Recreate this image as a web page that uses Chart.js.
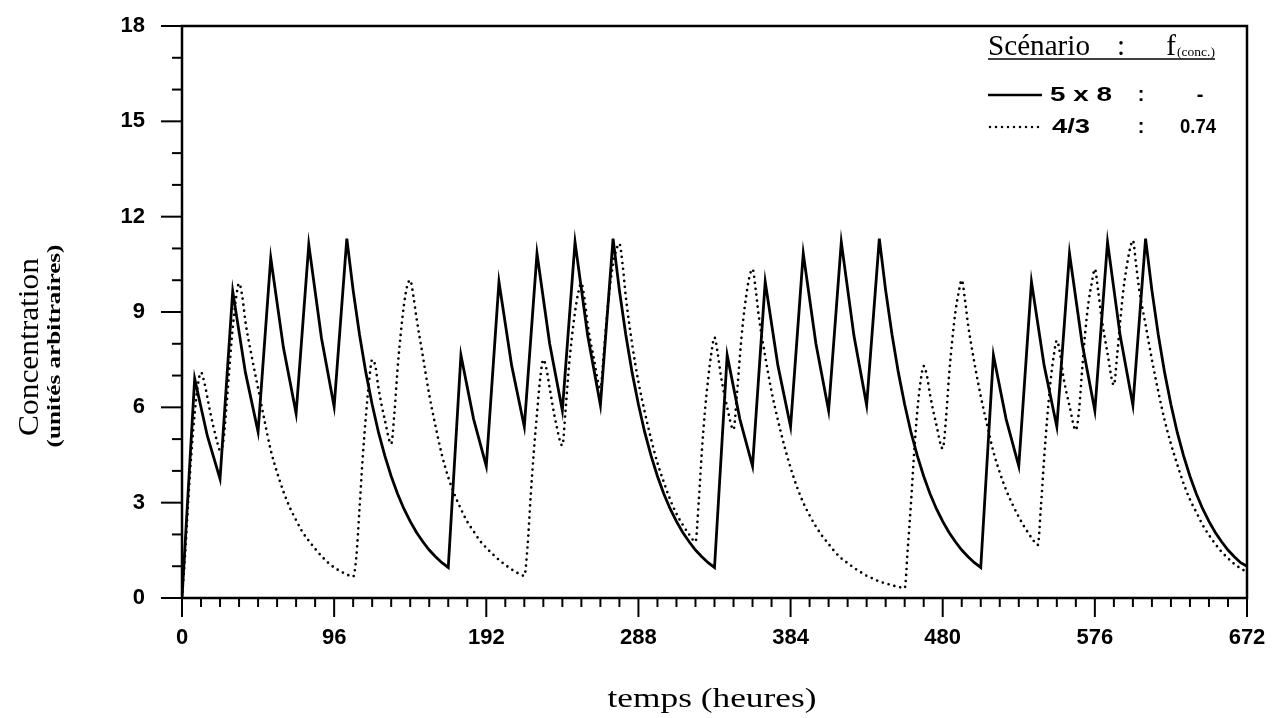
<!DOCTYPE html>
<html><head><meta charset="utf-8">
<script src="https://cdn.jsdelivr.net/npm/chart.js@4/dist/chart.umd.min.js"></script>
<style>html,body{margin:0;padding:0;background:#fff}#wrap{position:relative;width:1273px;height:718px}</style>
</head><body><div id="wrap"><canvas id="c" width="1273" height="718"></canvas></div>
<script>
// ---- data ----
const xMajorTicks = [0, 96, 192, 288, 384, 480, 576, 672];
const yMajorTicks = [0, 3, 6, 9, 12, 15, 18];

const solidLabel = '5 x 8';
const solidTimes = [0,8,16,24,32,40,48,56,64,72,80,88,96,104,108,112,116,120,124,128,132,136,140,144,148,152,156,160,164,168,
176,184,192,200,208,216,224,232,240,248,256,264,272,276,280,284,288,292,296,300,304,308,312,316,320,324,328,332,336,
344,352,360,368,376,384,392,400,408,416,424,432,440,444,448,452,456,460,464,468,472,476,480,484,488,492,496,500,504,
512,520,528,536,544,552,560,568,576,584,592,600,608,612,616,620,624,628,632,636,640,644,648,652,656,660,664,668,672];
const solidValues = [0,6.9,5.1,3.75,9.65,7.1,5.23,10.7,7.88,5.81,11.12,8.18,6.02,11.31,9.68,8.29,7.10,6.09,5.21,4.47,3.83,3.28,2.81,2.41,2.06,1.77,1.51,1.30,1.11,0.96,
7.64,5.63,4.15,9.95,7.32,5.39,10.84,8.0,5.9,11.2,8.25,6.07,11.31,9.68,8.29,7.10,6.09,5.21,4.47,3.83,3.28,2.81,2.41,2.06,1.77,1.51,1.30,1.11,0.96,
7.64,5.63,4.15,9.95,7.32,5.39,10.84,8.0,5.9,11.2,8.25,6.07,11.31,9.68,8.29,7.10,6.09,5.21,4.47,3.83,3.28,2.81,2.41,2.06,1.77,1.51,1.30,1.11,0.96,
7.64,5.63,4.15,9.95,7.32,5.39,10.84,8.0,5.9,11.2,8.25,6.07,11.31,9.68,8.29,7.10,6.09,5.21,4.47,3.83,3.28,2.81,2.41,2.06,1.77,1.51,1.30,1.11,1.0];

const dottedLabel = '4/3';
const dottedTimes = [0,2,4,6,8,10,12,14,18,22,24,26,28,30,32,34,36,38,40,44,48,52,56,60,64,68,72,76,80,84,88,92,96,100,104,108,
110,112,114,116,118,120,122,124,128,132,134,136,138,140,142,144,146,148,152,156,160,164,168,172,176,180,184,188,192,196,200,204,208,212,216,
218,220,222,224,226,228,230,232,236,240,242,244,246,248,250,252,254,256,260,264,266,268,270,272,274,276,278,280,284,288,292,296,300,304,308,312,316,320,324,
326,328,330,332,334,336,338,340,344,348,350,352,354,356,358,360,362,364,368,372,376,380,384,388,392,396,400,404,408,412,416,420,424,428,432,436,440,444,448,452,456,
458,460,462,464,466,468,470,472,476,480,482,484,486,488,490,492,494,496,500,504,508,512,516,520,524,528,532,536,540,
542,544,546,548,550,552,554,556,560,564,566,568,570,572,574,576,578,580,584,588,590,592,594,596,598,600,602,604,608,612,616,620,624,628,632,636,640,644,648,652,656,660,664,668,672];
const dottedValues = [0,1.4,3.1,4.6,5.8,6.7,7.1,6.8,5.8,4.95,4.65,4.9,6.0,7.3,8.5,9.4,9.9,9.5,8.7,7.6,6.6,5.6,4.65,3.95,3.35,2.85,2.45,2.08,1.8,1.55,1.32,1.12,0.96,0.84,0.74,0.67,
1.3,2.8,4.4,5.7,6.8,7.5,7.3,6.6,5.6,4.85,5.8,7.2,8.3,9.2,9.8,10.0,9.5,8.8,7.6,6.4,5.4,4.5,3.8,3.25,2.8,2.4,2.1,1.8,1.58,1.38,1.2,1.04,0.9,0.78,0.7,
1.6,3.2,4.6,5.8,6.9,7.5,7.2,6.6,5.5,4.8,5.9,7.2,8.2,9.0,9.6,9.9,9.4,8.6,7.5,6.6,7.6,8.8,9.8,10.5,10.95,11.15,10.5,9.5,8.0,6.8,5.85,5.0,4.25,3.65,3.1,2.65,2.3,2.0,1.77,
3.0,4.6,5.9,6.9,7.7,8.2,7.7,7.0,6.0,5.3,6.3,7.6,8.7,9.5,10.1,10.35,9.7,8.85,7.6,6.5,5.6,4.8,4.1,3.5,3.0,2.6,2.25,1.95,1.7,1.45,1.25,1.1,0.95,0.82,0.7,0.61,0.52,0.46,0.4,0.35,0.31,
1.6,3.0,4.6,5.9,6.8,7.3,7.0,6.4,5.45,4.7,5.6,7.0,8.1,9.0,9.6,10.0,9.4,8.6,7.4,6.35,5.45,4.6,3.95,3.4,2.95,2.55,2.2,1.9,1.67,
2.9,4.4,5.7,6.8,7.6,8.1,7.7,7.0,6.05,5.28,5.9,7.2,8.4,9.3,9.9,10.35,9.7,8.9,7.7,6.7,7.6,8.7,9.7,10.4,10.95,11.25,10.5,9.7,8.6,7.5,6.5,5.6,4.85,4.2,3.6,3.1,2.7,2.3,1.98,1.7,1.45,1.25,1.07,0.93,0.82];

const xTitle = 'temps (heures)';
const yTitle = 'Concentration';
const ySubTitle = '(unités arbitraires)';
const legendHeader = ['Scénario', ':', 'f', '(conc.)'];
const legendValues = ['-', '0.74'];

// ---- drawing ----
const SERIF = "'Liberation Serif', 'Times New Roman', serif";
const SANS = "'Liberation Sans', Arial, sans-serif";

function fitText(ctx, text, cx, cy, font, width, rot) {
  ctx.save();
  ctx.font = font;
  const w = ctx.measureText(text).width;
  const s = width ? width / w : 1;
  ctx.translate(cx, cy);
  if (rot) ctx.rotate(rot);
  ctx.scale(s, 1);
  ctx.textAlign = 'center';
  ctx.textBaseline = 'middle';
  ctx.fillStyle = '#000';
  ctx.fillText(text, 0, 0);
  ctx.restore();
}
function seg(ctx, x1, y1, x2, y2) { ctx.beginPath(); ctx.moveTo(x1, y1); ctx.lineTo(x2, y2); ctx.stroke(); }

const decor = {
  id: 'decor',
  afterDraw(chart) {
    const {ctx, chartArea: a, scales: {x, y}} = chart;
    ctx.save();
    ctx.strokeStyle = '#000';
    ctx.lineCap = 'butt';
    ctx.lineWidth = 2.5;
    ctx.strokeRect(a.left, a.top, a.right - a.left, a.bottom - a.top);
    ctx.lineWidth = 2;
    y.ticks.forEach(t => {
      const py = y.getPixelForValue(t.value);
      const len = yMajorTicks.includes(t.value) ? 21 : 10;
      seg(ctx, a.left - len, py, a.left, py);
    });
    x.ticks.forEach(t => {
      const px = x.getPixelForValue(t.value);
      const len = xMajorTicks.includes(t.value) ? 19 : 9;
      seg(ctx, px, a.bottom, px, a.bottom + len);
    });
    // axis titles
    fitText(ctx, yTitle, 30, 347, '30px ' + SERIF, 178, -Math.PI / 2);
    fitText(ctx, ySubTitle, 55, 346, 'bold 18px ' + SERIF, 203, -Math.PI / 2);
    fitText(ctx, xTitle, 712, 700, '28px ' + SERIF, 209, 0);
    // legend
    fitText(ctx, legendHeader[0], 1039, 47, '29px ' + SERIF, 102, 0);
    fitText(ctx, legendHeader[1], 1121, 47, '29px ' + SERIF, 0, 0);
    fitText(ctx, legendHeader[2], 1171, 47, '29px ' + SERIF, 0, 0);
    fitText(ctx, legendHeader[3], 1196, 53, '12px ' + SERIF, 38, 0);
    ctx.lineWidth = 1.5;
    seg(ctx, 988, 59, 1215, 59);
    ctx.lineWidth = 2.5;
    seg(ctx, 988, 95, 1042, 95);
    ctx.save();
    ctx.lineCap = 'round';
    ctx.setLineDash([0, 6]);
    seg(ctx, 990, 127, 1042, 127);
    ctx.restore();
    const ds = chart.data.datasets;
    fitText(ctx, ds[0].label, 1081, 95, 'bold 20px ' + SANS, 62, 0);
    fitText(ctx, ':', 1141, 95, 'bold 20px ' + SANS, 0, 0);
    fitText(ctx, legendValues[0], 1200, 95, 'bold 20px ' + SANS, 0, 0);
    fitText(ctx, ds[1].label, 1071, 127, 'bold 20px ' + SANS, 38, 0);
    fitText(ctx, ':', 1141, 127, 'bold 20px ' + SANS, 0, 0);
    fitText(ctx, legendValues[1], 1198, 127, 'bold 20px ' + SANS, 36, 0);
    ctx.restore();
  }
};

function zeroPad(s) { s.paddingTop = 0; s.paddingBottom = 0; s.paddingLeft = 0; s.paddingRight = 0; }

new Chart(document.getElementById('c'), {
  type: 'line',
  data: {
    datasets: [
      {label: solidLabel, data: solidTimes.map((t, i) => ({x: t, y: solidValues[i]})),
       borderColor: '#000', borderWidth: 2.8, pointRadius: 0, tension: 0, fill: false},
      {label: dottedLabel, data: dottedTimes.map((t, i) => ({x: t, y: dottedValues[i]})),
       borderColor: '#000', borderWidth: 2.7, pointRadius: 0, cubicInterpolationMode: 'monotone',
       borderDash: [0, 6], borderCapStyle: 'round', fill: false}
    ]
  },
  options: {
    responsive: false,
    animation: false,
    devicePixelRatio: 1,
    layout: {padding: {left: 0, top: 26, right: 26, bottom: 0}},
    plugins: {legend: {display: false}, tooltip: {enabled: false}},
    scales: {
      x: {
        type: 'linear', min: 0, max: 672,
        grid: {display: false, drawTicks: false},
        border: {display: false},
        ticks: {stepSize: 12, autoSkip: false, maxRotation: 0, padding: 27, color: '#000',
                font: {family: SANS, size: 22, weight: 'bold'},
                callback: v => xMajorTicks.includes(v) ? String(v) : ''},
        afterFit: s => { s.height = 120; zeroPad(s); }
      },
      y: {
        type: 'linear', min: 0, max: 18,
        grid: {display: false, drawTicks: false},
        border: {display: false},
        ticks: {stepSize: 1, autoSkip: false, padding: 37, color: '#000',
                font: {family: SANS, size: 22, weight: 'bold'},
                callback: v => yMajorTicks.includes(v) ? String(v) : ''},
        afterFit: s => { s.width = 182; zeroPad(s); }
      }
    }
  },
  plugins: [decor]
});
</script>
</body></html>
